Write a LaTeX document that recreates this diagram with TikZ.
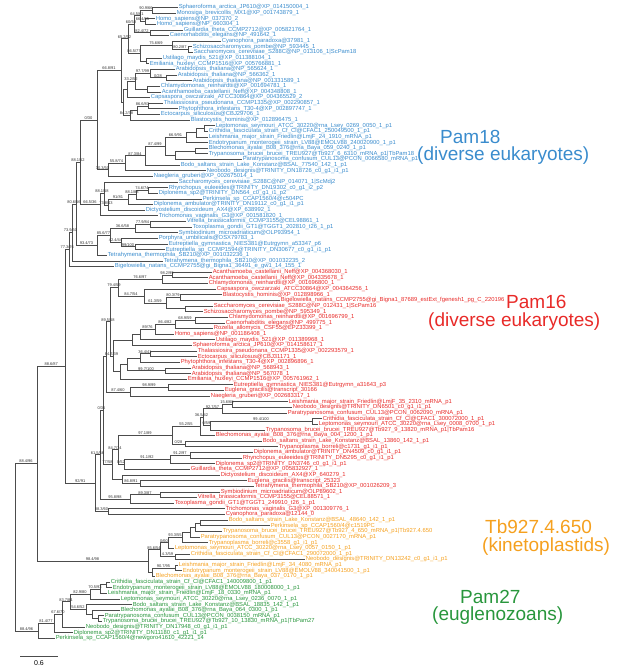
\documentclass[tikz,border=0pt]{standalone}
\usepackage{fontspec}
\setmainfont{Liberation Sans}
\usetikzlibrary{calc}

\definecolor{pamblue}{RGB}{58,140,205}
\definecolor{pamred}{RGB}{232,42,40}
\definecolor{pamorange}{RGB}{245,160,30}
\definecolor{pamgreen}{RGB}{40,150,60}

\tikzset{
  tip/.style={anchor=west, inner sep=0.6pt, font=\fontsize{5.85}{7}\selectfont,
    text height=4.3pt, text depth=1.3pt},
  bs/.style={above, midway, inner sep=0.3pt, font=\fontsize{4}{4}\selectfont, text=black!80},
  br/.style={draw=black!70, line width=0.6pt},
  grp/.style={anchor=west, inner sep=0pt, font=\fontsize{19}{19}\selectfont}
}

% leaf: name, x, row, text
\newcommand\tipnode[4]{\node[tip] (#1) at (#2,{7.3+5.634*#3}) {#4};}
% inner node: name, x, child1, label1, child2, label2
\newcommand\clade[6]{%
  \path let \p1=($(#3)!.5!(#5)$) in (#2pt,\y1) coordinate (#1);
  \draw[br] (#3) -- node[bs]{#4} (#1|-#3) -- (#1|-#5) -- node[bs]{#6} (#5);
}

\begin{document}
\catcode`\_=12
\begin{tikzpicture}[x=1pt, y=-1pt]
\path[use as bounding box] (0,0) rectangle (617,670);

% Pam18
\begin{scope}[tip/.append style={text=pamblue}]
\tipnode{t0}{178}{0}{Sphaeroforma_arctica_JP610@XP_014150004_1}
\tipnode{t1}{176}{1}{Monosiga_brevicollis_MX1@XP_001743879_1}
\tipnode{t2}{155}{2}{Homo_sapiens@NP_037370_2}
\tipnode{t3}{156}{3}{Homo_sapiens@NP_660304_1}
\tipnode{t4}{183}{4}{Guillardia_theta_CCMP2712@XP_005821764_1}
\tipnode{t5}{169}{5}{Caenorhabditis_elegans@NP_491642_1}
\tipnode{t6}{221}{6}{Cyanophora_paradoxa@37981_1}
\tipnode{t7}{192}{7}{Schizosaccharomyces_pombe@NP_593445_1}
\tipnode{t8}{193}{8}{Saccharomyces_cerevisiae_S288C@NP_013106_1|ScPam18}
\tipnode{t9}{162}{9}{Ustilago_maydis_521@XP_011388104_1}
\tipnode{t10}{149}{10}{Emiliania_huxleyi_CCMP1516@XP_005766881_1}
\tipnode{t11}{175}{11}{Arabidopsis_thaliana@NP_565624_1}
\tipnode{t12}{177}{12}{Arabidopsis_thaliana@NP_566362_1}
\tipnode{t13}{192}{13}{Arabidopsis_thaliana@NP_001331589_1}
\tipnode{t14}{160}{14}{Chlamydomonas_reinhardtii@XP_001694781_1}
\tipnode{t15}{161}{15}{Acanthamoeba_castellanii_Neff@XP_004348808_1}
\tipnode{t16}{150}{16}{Capsaspora_owczarzaki_ATCC30864@XP_004365529_2}
\tipnode{t17}{163}{17}{Thalassiosira_pseudonana_CCMP1335@XP_002290857_1}
\tipnode{t18}{178}{18}{Phytophthora_infestans_T30-4@XP_002897747_1}
\tipnode{t19}{160}{19}{Ectocarpus_siliculosus@CBJ29706_1}
\tipnode{t20}{190}{20}{Blastocystis_hominis@XP_012896475_1}
\tipnode{t21}{215}{21}{Leptomonas_seymouri_ATCC_30220@rna_Lsey_0269_0050_1_p1}
\tipnode{t22}{208}{22}{Crithidia_fasciculata_strain_Cf_Cl@CFAC1_250049500_1_p1}
\tipnode{t23}{208}{23}{Leishmania_major_strain_Friedlin@LmjF_24_1910_mRNA_p1}
\tipnode{t24}{208}{24}{Endotrypanum_monterogeii_strain_LV88@EMOLV88_240020900_1_p1}
\tipnode{t25}{208}{25}{Blechomonas_ayalai_B08_376@rna_Baya_059_0240_1_p1}
\tipnode{t26}{208}{26}{Trypanosoma_brucei_brucei_TREU927@Tb927_6_6310_mRNA_p1|TbPam18}
\tipnode{t27}{242}{27}{Paratrypanosoma_confusum_CUL13@PCON_0066580_mRNA_p1}
\tipnode{t28}{180}{28}{Bodo_saltans_strain_Lake_Konstanz@BSAL_77540_142_1_p1}
\tipnode{t29}{206}{29}{Neobodo_designis@TRINITY_DN18726_c0_g1_i1_p1}
\tipnode{t30}{153}{30}{Naegleria_gruberi@XP_002675014_1}
\tipnode{t31}{178}{31}{Saccharomyces_cerevisiae_S288C@NP_014071_1|ScMdj2}
\tipnode{t32}{168}{32}{Rhynchopus_euleeides@TRINITY_DN19302_c0_g1_i2_p2}
\tipnode{t33}{158}{33}{Diplonema_sp2@TRINITY_DN564_c0_g1_i1_p2}
\tipnode{t34}{202}{34}{Perkinsela_sp_CCAP1560/4@c504PC}
\tipnode{t35}{153}{35}{Diplonema_ambulator@TRINITY_DN19112_c0_g1_i1_p1}
\tipnode{t36}{145}{36}{Dictyostelium_discoideum_AX4@XP_638992_1}
\tipnode{t37}{158}{37}{Trichomonas_vaginalis_G3@XP_001581820_1}
\tipnode{t38}{186}{38}{Vitrella_brassicaformis_CCMP3155@CEL98861_1}
\tipnode{t39}{192}{39}{Toxoplasma_gondii_GT1@TGGT1_202810_t26_1_p1}
\tipnode{t40}{178}{40}{Symbiodinium_microadriaticum@OLP93954_1}
\tipnode{t41}{158}{41}{Porphyra_umbilicalis@OSX79783_1}
\tipnode{t42}{168}{42}{Eutreptiella_gymnastica_NIES381@Eutrgymn_a53347_p6}
\tipnode{t43}{165}{43}{Eutreptiella_sp_CCMP1594@TRINITY_DN30677_c0_g1_i1_p1}
\tipnode{t44}{107}{44}{Tetrahymena_thermophila_SB210@XP_001032236_1}
\tipnode{t45}{163}{45}{Tetrahymena_thermophila_SB210@XP_001032235_2}
\tipnode{t46}{114}{46}{Bigelowiella_natans_CCMP2755@gi_Bigna1_36491_e_gw1_14_155_1}
\end{scope}

% Pam16
\begin{scope}[tip/.append style={text=pamred}]
\tipnode{t47}{212}{47}{Acanthamoeba_castellanii_Neff@XP_004368030_1}
\tipnode{t48}{208}{48}{Acanthamoeba_castellanii_Neff@XP_004335678_1}
\tipnode{t49}{208}{49}{Chlamydomonas_reinhardtii@XP_001696800_1}
\tipnode{t50}{216}{50}{Capsaspora_owczarzaki_ATCC30864@XP_004364256_1}
\tipnode{t51}{222}{51}{Blastocystis_hominis@XP_012898966_1}
\tipnode{t52}{280}{52}{Bigelowiella_natans_CCMP2755@gi_Bigna1_87689_estExt_fgenesh1_pg_C_220196}
\tipnode{t53}{213}{53}{Saccharomyces_cerevisiae_S288C@NP_012431_1|ScPam16}
\tipnode{t54}{203}{54}{Schizosaccharomyces_pombe@NP_595349_1}
\tipnode{t55}{228}{55}{Chlamydomonas_reinhardtii@XP_001696799_1}
\tipnode{t56}{225}{56}{Caenorhabditis_elegans@NP_499775_1}
\tipnode{t57}{213}{57}{Rozella_allomycis_CSF55@EPZ33399_1}
\tipnode{t58}{174}{58}{Homo_sapiens@NP_001186408_1}
\tipnode{t59}{215}{59}{Ustilago_maydis_521@XP_011389968_1}
\tipnode{t60}{192}{60}{Sphaeroforma_arctica_JP610@XP_014158617_1}
\tipnode{t61}{197}{61}{Thalassiosira_pseudonana_CCMP1335@XP_002293579_1}
\tipnode{t62}{197}{62}{Ectocarpus_siliculosus@CBJ31171_1}
\tipnode{t63}{180}{63}{Phytophthora_infestans_T30-4@XP_002896896_1}
\tipnode{t64}{191}{64}{Arabidopsis_thaliana@NP_568943_1}
\tipnode{t65}{191}{65}{Arabidopsis_thaliana@NP_567078_1}
\tipnode{t66}{187}{66}{Emiliania_huxleyi_CCMP1516@XP_005761962_1}
\tipnode{t67}{233}{67}{Eutreptiella_gymnastica_NIES381@Eutrgymn_a31643_p3}
\tipnode{t68}{224}{68}{Euglena_gracilis@transcript_30166}
\tipnode{t69}{210}{69}{Naegleria_gruberi@XP_002683317_1}
\tipnode{t70}{288}{70}{Leishmania_major_strain_Friedlin@LmjF_35_2310_mRNA_p1}
\tipnode{t71}{292}{71}{Neobodo_designis@TRINITY_DN6501_c0_g1_i1_p1}
\tipnode{t72}{287}{72}{Paratrypanosoma_confusum_CUL13@PCON_0062090_mRNA_p1}
\tipnode{t73}{322}{73}{Crithidia_fasciculata_strain_Cf_Cl@CFAC1_300072000_1_p1}
\tipnode{t74}{318}{74}{Leptomonas_seymouri_ATCC_30220@rna_Lsey_0008_0700_1_p1}
\tipnode{t75}{265}{75}{Trypanosoma_brucei_brucei_TREU927@Tb927_9_13820_mRNA_p1|TbPam16}
\tipnode{t76}{215}{76}{Blechomonas_ayalai_B08_376@rna_Baya_004_1200_1_p1}
\tipnode{t77}{262}{77}{Bodo_saltans_strain_Lake_Konstanz@BSAL_13860_142_1_p1}
\tipnode{t78}{278}{78}{Trypanoplasma_borreli@c1731_g1_i1_p1}
\tipnode{t79}{253}{79}{Diplonema_ambulator@TRINITY_DN4509_c0_g1_i1_p1}
\tipnode{t80}{242}{80}{Rhynchopus_euleeides@TRINITY_DN5295_c0_g1_i1_p1}
\tipnode{t81}{215}{81}{Diplonema_sp2@TRINITY_DN3746_c0_g1_i1_p1}
\tipnode{t82}{190}{82}{Guillardia_theta_CCMP2712@XP_005832927_1}
\tipnode{t83}{220}{83}{Dictyostelium_discoideum_AX4@XP_640279_1}
\tipnode{t84}{247}{84}{Euglena_gracilis@transcript_25323}
\tipnode{t85}{254}{85}{Tetrahymena_thermophila_SB210@XP_001026209_3}
\tipnode{t86}{220}{86}{Symbiodinium_microadriaticum@OLP89602_1}
\tipnode{t87}{197}{87}{Vitrella_brassicaformis_CCMP3155@CEL88571_1}
\tipnode{t88}{174}{88}{Toxoplasma_gondii_GT1@TGGT1_249910_t26_1_p1}
\tipnode{t89}{225}{89}{Trichomonas_vaginalis_G3@XP_001309776_1}
\tipnode{t90}{225}{90}{Cyanophora_paradoxa@12144_0}
\end{scope}

% Tb927.4.650
\begin{scope}[tip/.append style={text=pamorange}]
\tipnode{t91}{228}{91}{Bodo_saltans_strain_Lake_Konstanz@BSAL_48640_142_1_p1}
\tipnode{t92}{270}{92}{Perkinsela_sp_CCAP1560/4@c1519PC}
\tipnode{t93}{222}{93}{Trypanosoma_brucei_brucei_TREU927@Tb927_4_650_mRNA_p1|Tb927.4.650}
\tipnode{t94}{200}{94}{Paratrypanosoma_confusum_CUL13@PCON_0027170_mRNA_p1}
\tipnode{t95}{208}{95}{Trypanoplasma_borreli@c3558_g1_i1_p1}
\tipnode{t96}{174}{96}{Leptomonas_seymouri_ATCC_30220@rna_Lsey_0057_0150_1_p1}
\tipnode{t97}{190}{97}{Crithidia_fasciculata_strain_Cf_Cl@CFAC1_290072000_1_p1}
\tipnode{t98}{305}{98}{Neobodo_designis@TRINITY_DN13242_c0_g1_i1_p1}
\tipnode{t99}{178}{99}{Leishmania_major_strain_Friedlin@LmjF_34_4080_mRNA_p1}
\tipnode{t100}{182}{100}{Endotrypanum_monterogeii_strain_LV88@EMOLV88_340041500_1_p1}
\tipnode{t101}{155}{101}{Blechomonas_ayalai_B08_376@rna_Baya_037_0170_1_p1}
\end{scope}

% Pam27
\begin{scope}[tip/.append style={text=pamgreen}]
\tipnode{t102}{110}{102}{Crithidia_fasciculata_strain_Cf_Cl@CFAC1_140009800_1_p1}
\tipnode{t103}{112}{103}{Endotrypanum_monterogeii_strain_LV88@EMOLV88_180008000_1_p1}
\tipnode{t104}{107}{104}{Leishmania_major_strain_Friedlin@LmjF_18_0330_mRNA_p1}
\tipnode{t105}{120}{105}{Leptomonas_seymouri_ATCC_30220@rna_Lsey_0236_0070_1_p1}
\tipnode{t106}{132}{106}{Bodo_saltans_strain_Lake_Konstanz@BSAL_18835_142_1_p1}
\tipnode{t107}{120}{107}{Blechomonas_ayalai_B08_376@rna_Baya_064_0300_1_p1}
\tipnode{t108}{104}{108}{Paratrypanosoma_confusum_CUL13@PCON_0038150_mRNA_p1}
\tipnode{t109}{102}{109}{Trypanosoma_brucei_brucei_TREU927@Tb927_10_13830_mRNA_p1|TbPam27}
\tipnode{t110}{85}{110}{Neobodo_designis@TRINITY_DN17948_c0_g1_i1_p1}
\tipnode{t111}{73}{111}{Diplonema_sp2@TRINITY_DN11180_c1_g1_i1_p1}
\tipnode{t112}{55}{112}{Perkinsela_sp_CCAP1560/4@newgoro41610_42221_14}
\end{scope}

% Pam18 clades
\clade{b1}{152}{t0}{}{t1}{}
\clade{b2}{145}{t2}{}{t3}{}
\clade{b3}{140}{b1}{90.9/66}{b2}{66.4/85}
\clade{b4}{150}{t4}{}{t5}{}
\clade{b5}{134}{b3}{64.5/61}{b4}{82.4/72}
\clade{b6}{188}{t7}{}{t8}{}
\clade{b7}{172}{t6}{}{b6}{80.2/87}
\clade{b8}{146}{t9}{}{t10}{}
\clade{b9}{140}{b7}{75.6/69}{b8}{}
\clade{b10}{128}{b5}{60/58}{b9}{86.5/77}
\clade{b11}{166}{t12}{}{t13}{}
\clade{b12}{150}{t11}{}{b11}{0/28}
\clade{b13}{147}{t14}{}{t15}{}
\clade{b14}{135}{b12}{97.7/99}{b13}{}
\clade{b15}{127}{b14}{33.2/52}{t16}{}
\clade{b16}{148}{t17}{}{t18}{}
\clade{b17}{137}{b16}{86.6/87}{t19}{}
\clade{b18}{130}{b17}{}{t20}{}
\clade{b19}{123}{b15}{}{b18}{84.2/38}
\clade{b20}{121}{b10}{65.2/52}{b19}{}
\clade{k1}{204}{t21}{}{t22}{}
\clade{k2}{196}{k1}{}{t23}{}
\clade{k3}{186}{k2}{}{t24}{}
\clade{k4}{195}{t25}{}{t26}{}
\clade{k5}{175}{k4}{}{t27}{}
\clade{k6}{165}{k3}{66.9/91}{k5}{}
\clade{k7}{145}{k6}{87.4/99}{t28}{}
\clade{k8}{125}{k7}{87.3/84}{t29}{}
\clade{k9}{108}{k8}{55.8/74}{t30}{}
\clade{b21}{97}{b20}{66.8/91}{k9}{30.3/50}
\clade{r1}{148}{t32}{}{t33}{}
\clade{r2}{136}{r1}{74.6/74}{t34}{}
\clade{r3}{128}{r2}{88.1/88}{t35}{}
\clade{r4}{108}{r3}{91/81}{t36}{}
\clade{r5}{104}{t31}{}{r4}{73.8/43}
\clade{r6}{100}{r5}{88.1/58}{t37}{}
\clade{B3}{80}{b21}{0/30}{r6}{66.5/36}
\clade{a1}{150}{t38}{}{t39}{}
\clade{a2}{135}{a1}{77.9/84}{t40}{}
\clade{e1}{135}{t42}{}{t43}{}
\clade{e2}{121}{t41}{}{e1}{99/100}
\clade{a3}{110}{a2}{36.6/58}{e2}{42.4/44}
\clade{e3}{97}{a3}{85.6/77}{t44}{}
\clade{B2}{76}{B3}{88.1/52}{e3}{93.4/73}
\clade{B1}{72}{B2}{80.6/56}{t45}{}
\clade{P18}{69}{B1}{73.9/50}{t46}{}

% Pam16 clades
\clade{c1}{172}{t47}{}{t48}{}
\clade{c2}{162}{c1}{98.2/99}{t49}{}
\clade{c4}{180}{t51}{}{t52}{}
\clade{c5}{185}{t53}{}{t54}{}
\clade{c6}{166}{c4}{80.3/79}{c5}{}
\clade{c7}{144}{t50}{}{c6}{61.3/59}
\clade{c3}{118}{c2}{76.6/97}{c7}{84.7/54}
\clade{c8}{195}{t55}{}{t56}{}
\clade{c9}{175}{c8}{68.9/59}{t57}{}
\clade{c10}{155}{c9}{86.4/82}{t58}{}
\clade{c11}{140}{c10}{89/76}{t59}{}
\clade{c12}{132}{c11}{}{t60}{}
\clade{c13}{150}{t61}{}{t62}{}
\clade{c14}{140}{c13}{36.4/41}{t63}{}
\clade{c15}{165}{t64}{}{t65}{}
\clade{c16}{127}{c14}{}{c15}{99.7/100}
\clade{c17}{120}{c16}{}{t66}{}
\clade{c18}{113}{c12}{}{c17}{}
\clade{c19}{110}{c3}{79.4/59}{c18}{84.7/39}
\clade{c20}{168}{t67}{}{t68}{}
\clade{c21}{130}{c20}{98.9/99}{t69}{}
\clade{Pc}{106}{c19}{89.5/58}{c21}{87.4/60}
\clade{d1}{232}{t70}{}{t71}{}
\clade{d2}{222}{d1}{15.6/68}{t72}{}
\clade{d3}{312}{t73}{}{t74}{}
\clade{d5}{210}{d3}{99.4/100}{t75}{}
\clade{d4}{203}{d2}{92.7/57}{d5}{0/59}
\clade{d6}{200}{d4}{36.5/42}{t76}{}
\clade{d7}{185}{t77}{}{t78}{}
\clade{d8}{172}{d6}{55.2/55}{d7}{0/28}
\clade{d9}{190}{t79}{}{t80}{}
\clade{d10}{170}{d9}{91.2/97}{t81}{}
\clade{d11}{124}{d10}{91.1/92}{t82}{}
\clade{d12}{118}{d8}{97.1/89}{d11}{0/52}
\clade{d13}{140}{t84}{}{t85}{}
\clade{d14}{122}{t83}{}{d13}{86.8/91}
\clade{Pe}{112}{d12}{84.7/74}{d14}{}
\clade{Pb}{103}{Pc}{}{Pe}{77/58}
\clade{f0}{160}{t86}{}{t87}{}
\clade{f1}{130}{f0}{89.3/87}{t88}{}
\clade{Pa}{100}{Pb}{0/35}{f1}{95.8/98}
\clade{f3}{108}{t89}{}{t90}{}
\clade{P16}{95}{Pa}{61.5/56}{f3}{88.3/60}
\clade{U}{65.5}{P18}{77.3/76}{P16}{92/91}

% Tb927.4.650 clades
\clade{o1}{200}{t91}{}{t92}{}
\clade{o2}{195}{o1}{}{t93}{}
\clade{o3}{190}{o2}{}{t94}{}
\clade{o4}{182}{o3}{}{t95}{}
\clade{o5}{168}{o4}{93.3/55}{t96}{}
\clade{o6}{175}{t97}{}{t98}{}
\clade{o7}{160}{o5}{0/60}{o6}{4.3/59}
\clade{o8}{175}{t99}{}{t100}{}
\clade{o9}{152}{o8}{90.7/95}{t101}{}
\clade{T}{148}{o7}{85.6/54}{o9}{}
\clade{A}{37}{U}{88.6/87}{T}{98.4/98}

% Pam27 clades
\clade{g1}{106}{t102}{}{t103}{}
\clade{g2}{100}{g1}{}{t104}{}
\clade{g3}{90}{g2}{70.5/93}{t105}{}
\clade{g4}{98}{t108}{}{t109}{}
\clade{g5}{92}{t107}{}{g4}{}
\clade{g6}{86}{t106}{}{g5}{}
\clade{g7}{70}{g3}{82.9/80}{g6}{54.6/52}
\clade{g8}{62}{g7}{83.7/84}{t110}{}
\clade{g9}{54}{g8}{67.6/70}{t111}{}
\clade{G}{38}{g9}{81.4/77}{t112}{}
\clade{R}{15}{A}{88.4/96}{G}{88.4/96}

% group labels
\node[grp, text=pamblue] (lab18a) at (440,137) {Pam18};
\node[grp, text=pamblue] (lab18b) at (417,156) {(diverse eukaryotes)};
\node[grp, text=pamred] (lab16a) at (506,302) {Pam16};
\node[grp, text=pamred] (lab16b) at (428,322) {(diverse eukaryotes)};
\node[grp, text=pamorange] (labtba) at (485,527) {Tb927.4.650};
\node[grp, text=pamorange] (labtbb) at (482,547) {(kinetoplastids)};
\node[grp, text=pamgreen] (lab27a) at (460,597) {Pam27};
\node[grp, text=pamgreen] (lab27b) at (432,616) {(euglenozoans)};

% scale
\coordinate (sbl) at (20,656);
\coordinate (sbr) at (58,656);
\draw[br] (sbl) -- node[below=1pt, font=\fontsize{7}{7}\selectfont] {0.6} (sbr);
\end{tikzpicture}
\end{document}
